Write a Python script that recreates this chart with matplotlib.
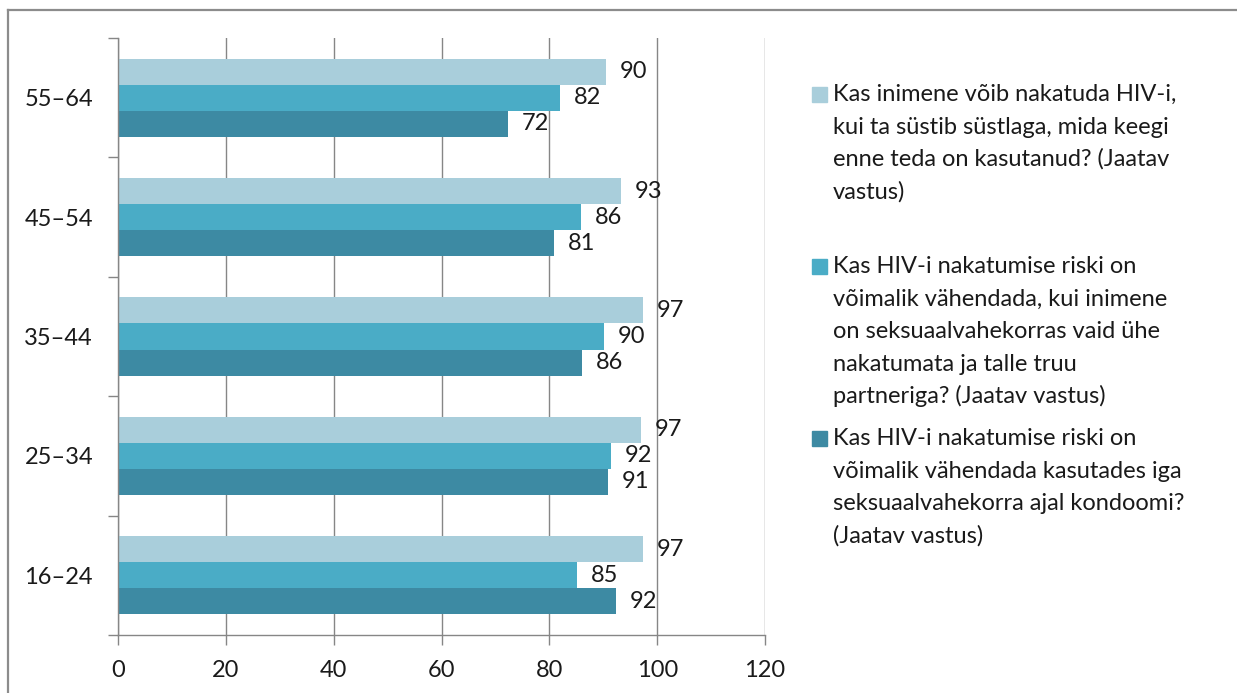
import numpy as np
import matplotlib
matplotlib.use('Agg')
import matplotlib.pyplot as plt
from matplotlib.lines import Line2D
from matplotlib.patches import Rectangle

plt.rcParams['font.family'] = ['Lato', 'DejaVu Sans']

# age groups, bottom to top
groups = ['16–24', '25–34', '35–44', '45–54', '55–64']

# series values (bar lengths) and printed labels
syringe = [97.4, 97.0, 97.4, 93.3, 90.5]
faithful = [85.2, 91.5, 90.2, 85.9, 82.0]
condom = [92.4, 90.9, 86.1, 80.9, 72.3]
syringe_lbl = [97, 97, 97, 93, 90]
faithful_lbl = [85, 92, 90, 86, 82]
condom_lbl = [92, 91, 86, 81, 72]

legend_lines = [
    ['Kas inimene võib nakatuda HIV-i,',
     'kui ta süstib süstlaga, mida keegi',
     'enne teda on kasutanud? (Jaatav',
     'vastus)'],
    ['Kas HIV-i nakatumise riski on',
     'võimalik vähendada, kui inimene',
     'on seksuaalvahekorras vaid ühe',
     'nakatumata ja talle truu',
     'partneriga? (Jaatav vastus)'],
    ['Kas HIV-i nakatumise riski on',
     'võimalik vähendada kasutades iga',
     'seksuaalvahekorra ajal kondoomi?',
     '(Jaatav vastus)'],
]

colors = ['#a9cedb', '#4aacc6', '#3d8aa3']
W, H = 1237, 693
fs = 17

fig = plt.figure(figsize=(W / 100, H / 100), dpi=100)
ax = fig.add_axes([118 / W, 58 / H, 647 / W, 597 / H])

y = np.arange(len(groups))
h = 0.218
series = [(syringe, syringe_lbl, h), (faithful, faithful_lbl, 0), (condom, condom_lbl, -h)]
for (vals, lbls, off), c in zip(series, colors):
    ax.barh(y + off, vals, height=h, color=c, zorder=2)
    for yi, v, l in zip(y, vals, lbls):
        ax.annotate(str(l), (v, yi + off), xytext=(10, 0), textcoords='offset points',
                    ha='left', va='center', fontsize=fs, color='#1a1a1a', zorder=3)

ax.set_xlim(0, 120)
ax.set_ylim(-0.5, 4.5)
ax.set_xticks(range(0, 121, 20))
ax.set_yticks(y)
ax.set_yticklabels(groups)
ax.set_yticks(np.arange(-0.5, 4.6, 1), minor=True)
ax.tick_params(axis='y', which='major', length=0, pad=18, labelsize=fs, labelcolor='#1a1a1a')
ax.tick_params(axis='y', which='minor', length=7, width=1, color='#868686', direction='out')
ax.tick_params(axis='x', length=7, width=1, color='#868686', direction='out', pad=11,
               labelsize=fs, labelcolor='#1a1a1a')
ax.grid(axis='x', color='#868686', lw=1, zorder=0)
for s in ['top', 'right']:
    ax.spines[s].set_visible(False)
for s in ['left', 'bottom']:
    ax.spines[s].set_color('#868686')
    ax.spines[s].set_linewidth(1)

# legend drawn by hand (uneven spacing like the original)
starts = [101, 273, 445]
for lines, c, b0 in zip(legend_lines, colors, starts):
    fig.patches.append(Rectangle((812 / W, 1 - (b0 + 1) / H), 15 / W, 15 / H,
                                 transform=fig.transFigure, color=c))
    for k, line in enumerate(lines):
        fig.text(833 / W, 1 - (b0 + k * 32.5) / H, line, ha='left', va='baseline',
                 fontsize=fs, color='#1a1a1a')

# outer chart frame
fig.lines.append(Line2D([8 / W, 8 / W], [0, 1 - 10 / H], transform=fig.transFigure,
                        color='#8c8c8c', lw=1.6))
fig.lines.append(Line2D([8 / W, 1], [1 - 10 / H, 1 - 10 / H], transform=fig.transFigure,
                        color='#8c8c8c', lw=1.6))

fig.savefig('out.png', dpi=100)
